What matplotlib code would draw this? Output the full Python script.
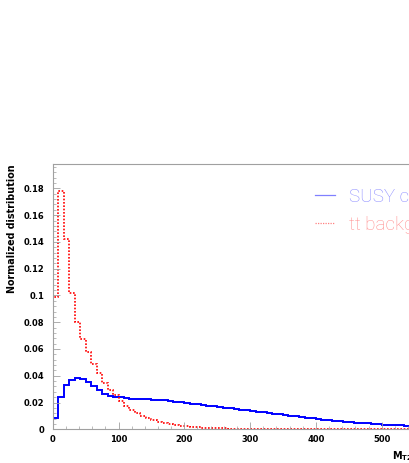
import numpy as np
import matplotlib
matplotlib.use('Agg')
import matplotlib.pyplot as plt
from matplotlib.ticker import MultipleLocator, FuncFormatter
from matplotlib.lines import Line2D

# Binning: 72 bins de 0 a 600 (largeur 25/3)
bin_edges = np.linspace(0, 600, 73)

# SUSY (bleu, trait plein)
susy = [
    0.0085, 0.024, 0.033, 0.037, 0.038, 0.0375, 0.035, 0.032, 0.029, 0.0265, 0.025, 0.0245,
    0.0238, 0.0234, 0.023, 0.0228, 0.0226, 0.0224, 0.0222, 0.0219, 0.0216, 0.0212, 0.0207, 0.0202,
    0.0197, 0.0192, 0.0187, 0.0182, 0.0177, 0.0172, 0.0167, 0.0162, 0.0157, 0.0152, 0.0147, 0.0142,
    0.0136, 0.0131, 0.0126, 0.0121, 0.0116, 0.0111, 0.0106, 0.0101, 0.0096, 0.0091, 0.0087, 0.0082,
    0.0078, 0.0073, 0.0069, 0.0065, 0.0061, 0.0057, 0.0054, 0.0050, 0.0047, 0.0044, 0.0041, 0.0038,
    0.0035, 0.0033, 0.0031, 0.0029, 0.0027, 0.0025, 0.0023, 0.0021, 0.0020, 0.0019, 0.0018, 0.0017,
]

# tt background (rouge, pointillés)
ttbar = [
    0.099, 0.178, 0.142, 0.1016, 0.080, 0.0677, 0.058, 0.049, 0.042, 0.0344, 0.029, 0.0255,
    0.021, 0.0175, 0.0145, 0.012, 0.010, 0.0085, 0.007, 0.0058, 0.0048, 0.004, 0.0033, 0.0027,
    0.0022, 0.0018, 0.0015, 0.0012, 0.0010, 0.0008, 0.0007, 0.0006, 0.0005, 0.0004, 0.0003, 0.0003,
    0.0002, 0.0002, 0.0002, 0.0001, 0.0001, 0.0001, 0.0001, 0.0001, 0.0001, 0.0001, 0.0001, 0.0001,
    0.0001, 0.0001, 0.0001, 0.0001, 0.0001, 0.0001, 0.0001, 0.0001, 0.0001, 0.0001, 0.0001, 0.0001,
    0.0001, 0.0001, 0.0001, 0.0001, 0.0001, 0.0001, 0.0001, 0.0001, 0.0001, 0.0001, 0.0001, 0.0001,
]

labels = ['SUSY coannihilation', 'tt background']

fig = plt.figure(figsize=(4.09, 4.63), dpi=100)
# L'axe dépasse à droite de l'image, comme dans l'original
ax = fig.add_axes([52.7 / 409, 33.7 / 463, 394.8 / 409, 265.0 / 463])

ax.stairs(susy, bin_edges, color='#0000ff', lw=1.4, baseline=0)
ax.stairs(ttbar, bin_edges, color='#ff0000', lw=1.2, ls=(0, (1, 1)), baseline=0)

ax.set_xlim(0, 600)
ax.set_ylim(0, 0.198)

for side in ['left', 'top', 'bottom', 'right']:
    ax.spines[side].set_color('#a0a0a0')
    ax.spines[side].set_linewidth(0.8)

ax.xaxis.set_major_locator(MultipleLocator(100))
ax.xaxis.set_minor_locator(MultipleLocator(20))
ax.yaxis.set_major_locator(MultipleLocator(0.02))
ax.yaxis.set_minor_locator(MultipleLocator(0.004))
ax.yaxis.set_major_formatter(FuncFormatter(lambda v, p: '%g' % round(v, 4)))
ax.tick_params(which='both', direction='in', colors='#a0a0a0', labelcolor='black')
ax.tick_params(which='major', length=5, width=0.6)
ax.tick_params(which='minor', length=2.5, width=0.5)
ax.tick_params(axis='x', pad=4)
ax.tick_params(axis='y', pad=6)
for lab in ax.get_xticklabels() + ax.get_yticklabels():
    lab.set_fontfamily('DejaVu Sans')
    lab.set_fontweight('bold')
    lab.set_fontsize(6)

ax.set_ylabel('Normalized distribution', fontsize=6.9, fontweight='bold', loc='top', labelpad=5)
ax.set_xlabel('M$_{\\mathbf{T2}}$ (GeV)', fontsize=7, fontweight='bold', loc='right', labelpad=4)

handles = [Line2D([], [], color='#8080ff', lw=0.9),
           Line2D([], [], color='#ff8080', lw=0.9, ls=(0, (1, 1)))]
leg = ax.legend(handles, labels, loc='upper left', bbox_to_anchor=(315 / 409, 1 - 188 / 463),
                bbox_transform=fig.transFigure, frameon=False, borderpad=0, borderaxespad=0,
                handlelength=1.07, handletextpad=0.75, labelspacing=0.51,
                prop={'family': 'Roboto', 'weight': 'light', 'size': 13.5})
leg.get_texts()[0].set_color('#8c8cff')
leg.get_texts()[1].set_color('#ff8c8c')

plt.savefig('out.png', dpi=100)
plt.close()
